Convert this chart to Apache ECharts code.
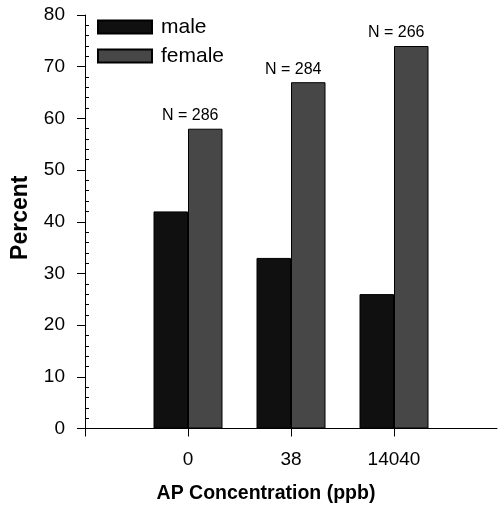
<!DOCTYPE html>
<html>
<head>
<meta charset="utf-8">
<script src="https://cdn.jsdelivr.net/npm/echarts@6/dist/echarts.min.js"></script>
<style>html,body{margin:0;padding:0;background:#fff;overflow:hidden;}#c{width:500px;height:510px;}</style>
</head>
<body>
<div id="c"></div>
<script>
var categories = ['', '0', '38', '14040', ''];
var maleValues = [null, 42, 33, 26, null];
var femaleValues = [null, 58, 67, 74, null];
var nLabels = ['', 'N = 286', 'N = 284', 'N = 266', ''];
var yTicks = [0, 10, 20, 30, 40, 50, 60, 70, 80];

var font = 'Arial, "Liberation Sans", Helvetica, sans-serif';
var chart = echarts.init(document.getElementById('c'));
chart.setOption({
  animation: false,
  backgroundColor: '#fff',
  textStyle: { fontFamily: font },
  grid: { left: 85, width: 418, top: 15, bottom: 81.5, containLabel: false },
  legend: {
    left: 97, top: 16.5, orient: 'vertical', padding: 0,
    icon: 'rect',
    itemWidth: 54, itemHeight: 13, itemGap: 8,
    textStyle: { fontFamily: font, fontSize: 21, color: '#000', lineHeight: 20, padding: [0, 0, 0, 4] },
    data: ['male', 'female']
  },
  xAxis: {
    type: 'category',
    data: categories,
    boundaryGap: false,
    axisLine: { lineStyle: { color: '#000', width: 1 } },
    axisTick: { show: true, length: 8, interval: function (i) { return i < categories.length - 1; }, lineStyle: { color: '#000' } },
    axisLabel: { interval: 0, margin: 22, fontSize: 19, color: '#000', fontFamily: font },
    name: 'AP Concentration (ppb)',
    nameLocation: 'middle',
    nameGap: 55,
    nameTextStyle: { fontSize: 19.5, fontWeight: 'bold', color: '#000', fontFamily: font, padding: [0, 50, 0, 0] },
    splitLine: { show: false }
  },
  yAxis: {
    type: 'value',
    min: yTicks[0], max: yTicks[yTicks.length - 1], interval: 10,
    axisLine: { show: true, lineStyle: { color: '#000', width: 1 } },
    axisTick: { show: true, length: 8, lineStyle: { color: '#000' } },
    minorTick: { show: true, splitNumber: 5, length: -4, lineStyle: { color: '#000' } },
    axisLabel: { margin: 20, fontSize: 19, color: '#000', fontFamily: font },
    splitLine: { show: false },
    name: 'Percent',
    nameLocation: 'middle',
    nameGap: 53,
    nameTextStyle: { fontSize: 23, fontWeight: 'bold', color: '#000', fontFamily: font, padding: [0, 0, 0, 8] }
  },
  series: [
    {
      name: 'male', type: 'bar', data: maleValues,
      barWidth: 34.5, barGap: '0%',
      itemStyle: { color: '#101010', borderColor: '#000', borderWidth: 1 }
    },
    {
      name: 'female', type: 'bar', data: femaleValues,
      barWidth: 34.5, barGap: '0%',
      itemStyle: { color: '#474747', borderColor: '#000', borderWidth: 1 },
      label: {
        show: true, position: 'top', distance: 5, offset: [-15, 0],
        fontSize: 16, color: '#000', fontFamily: font,
        formatter: function (p) { return nLabels[p.dataIndex]; }
      }
    }
  ]
});
</script>
</body>
</html>
